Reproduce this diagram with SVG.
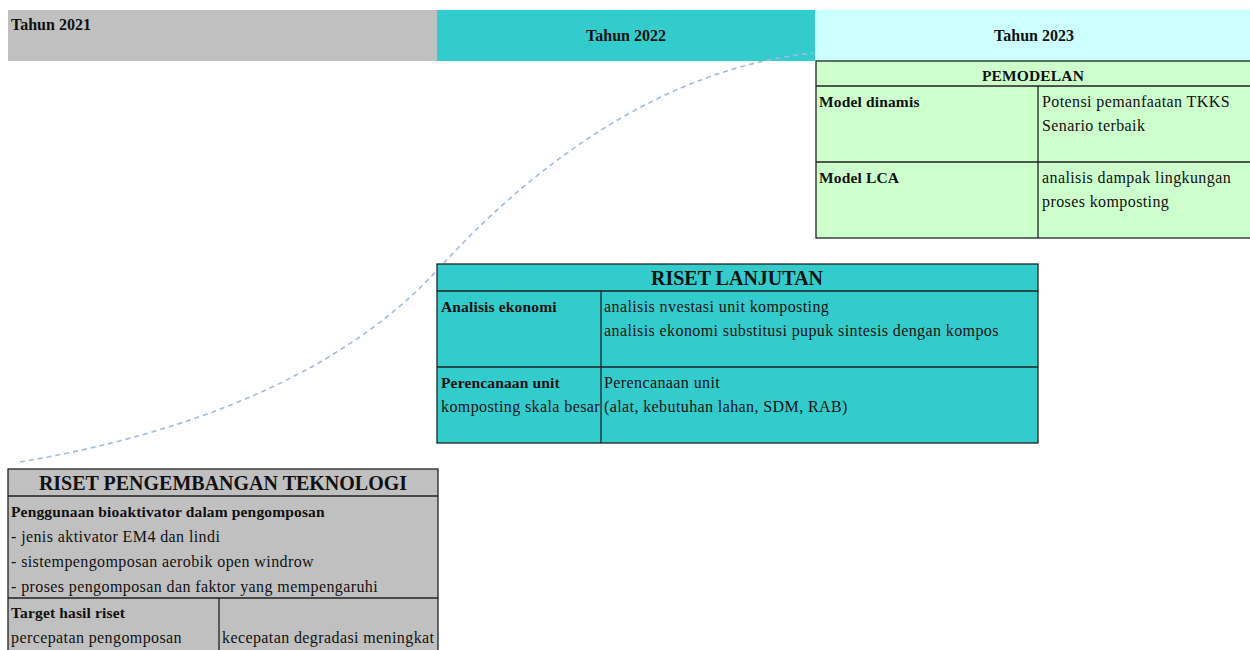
<svg xmlns="http://www.w3.org/2000/svg" width="1250" height="650" viewBox="0 0 1250 650">
<style>
  text { font-family: "Liberation Serif", "Times New Roman", serif; fill: #111; }
  .b { font-weight: bold; font-size: 15.5px; letter-spacing: 0.15px; }
  .r { font-size: 16px; letter-spacing: 0.4px; }
  .h { font-weight: bold; font-size: 16px; }
  .t { font-weight: bold; font-size: 20px; }
  .c { text-anchor: middle; }
  .cell { stroke: #222; stroke-width: 1.3; }
  .ln { stroke: #222; stroke-width: 1.3; fill: none; }
  .conn { fill: none; stroke: #A3BCDA; stroke-width: 1.6; stroke-dasharray: 5 4; }
</style>
<defs>
  <clipPath id="clipLeft"><rect x="437" y="367" width="164" height="76"/></clipPath>
</defs>
<rect width="1250" height="650" fill="#fff"/>

<g id="header">
  <rect x="8" y="10" width="429" height="51" fill="#C0C0C0"/>
  <rect x="437" y="10" width="378" height="51" fill="#33CCCC"/>
  <rect x="815" y="10" width="435" height="51" fill="#CCFFFF"/>
  <text class="h" x="11" y="30">Tahun 2021</text>
  <text class="h c" x="626" y="41">Tahun 2022</text>
  <text class="h c" x="1034" y="41">Tahun 2023</text>
</g>

<g id="connectors">
  <path class="conn" d="M20,462 C150,440 330,390 442,265 C520,180 650,70 813,53"/>
</g>

<g id="pemodelan">
  <rect class="cell" x="816" y="61" width="440" height="177" fill="#CCFFCC"/>
  <path class="ln" d="M816,86 H1256 M816,162 H1256 M1038,86 V238"/>
  <text class="b c" x="1033" y="81">PEMODELAN</text>
  <text class="b" x="819" y="107">Model dinamis</text>
  <text class="r" x="1042" y="107">Potensi pemanfaatan TKKS</text>
  <text class="r" x="1042" y="131">Senario terbaik</text>
  <text class="b" x="819" y="183">Model LCA</text>
  <text class="r" x="1042" y="183">analisis dampak lingkungan</text>
  <text class="r" x="1042" y="207">proses komposting</text>
</g>

<g id="riset-lanjutan">
  <rect class="cell" x="437" y="264" width="601" height="179" fill="#33CCCC"/>
  <path class="ln" d="M437,291 H1038 M437,367 H1038 M601,291 V443"/>
  <text class="t c" x="737" y="285">RISET LANJUTAN</text>
  <text class="b" x="441" y="312">Analisis ekonomi</text>
  <text class="r" x="604" y="312">analisis nvestasi unit komposting</text>
  <text class="r" x="604" y="336">analisis ekonomi substitusi pupuk sintesis dengan kompos</text>
  <text class="b" x="441" y="388">Perencanaan unit</text>
  <text class="r" x="441" y="412" clip-path="url(#clipLeft)">komposting skala besar</text>
  <text class="r" x="604" y="388">Perencanaan unit</text>
  <text class="r" x="604" y="412">(alat, kebutuhan lahan, SDM, RAB)</text>
</g>

<g id="riset-pengembangan">
  <rect class="cell" x="8" y="469" width="430" height="190" fill="#C0C0C0"/>
  <path class="ln" d="M8,496 H438 M8,598 H438 M219,598 V660"/>
  <text class="t c" x="223" y="490">RISET PENGEMBANGAN TEKNOLOGI</text>
  <text class="b" x="11" y="517">Penggunaan bioaktivator dalam pengomposan</text>
  <text class="r" x="11" y="542">- jenis aktivator EM4 dan lindi</text>
  <text class="r" x="11" y="567">- sistempengomposan aerobik open windrow</text>
  <text class="r" x="11" y="592">- proses pengomposan dan faktor yang mempengaruhi</text>
  <text class="b" x="11" y="618">Target hasil riset</text>
  <text class="r" x="11" y="643">percepatan pengomposan</text>
  <text class="r" x="222" y="643">kecepatan degradasi meningkat</text>
</g>
</svg>
